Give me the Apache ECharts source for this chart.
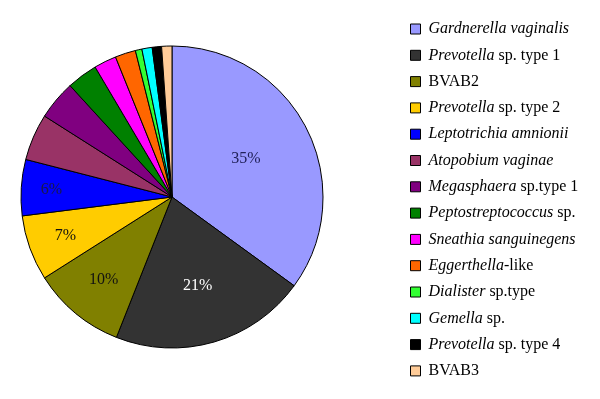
<!DOCTYPE html>
<html>
<head>
<meta charset="utf-8">
<script src="https://cdn.jsdelivr.net/npm/echarts@6/dist/echarts.min.js"></script>
<style>
html, body { margin: 0; padding: 0; background: #fff; }
#main { width: 600px; height: 399px; }
</style>
</head>
<body>
<div id="main"></div>
<script>
// 菌种名称（italic 部分单独列出）
var names = ['Gardnerella vaginalis', 'Prevotella sp. type 1', 'BVAB2', 'Prevotella sp. type 2',
    'Leptotrichia amnionii', 'Atopobium vaginae', 'Megasphaera sp.type 1', 'Peptostreptococcus sp.',
    'Sneathia sanguinegens', 'Eggerthella-like', 'Dialister sp.type', 'Gemella sp.',
    'Prevotella sp. type 4', 'BVAB3'];
var italicParts = ['Gardnerella vaginalis', 'Prevotella', '', 'Prevotella',
    'Leptotrichia amnionii', 'Atopobium vaginae', 'Megasphaera', 'Peptostreptococcus',
    'Sneathia sanguinegens', 'Eggerthella', 'Dialister', 'Gemella',
    'Prevotella', ''];
// 百分比
var values = [35, 21, 10, 7, 6, 5, 4.2, 3.3, 2.4, 2.2, 0.7, 1.1, 1.0, 1.1];
// 只显示前5个标签
var labelCount = 5;

var colors = ['#9999ff', '#333333', '#808000', '#ffcc00', '#0000ff', '#993366', '#800080',
    '#008000', '#ff00ff', '#ff6600', '#33ff33', '#00ffff', '#000000', '#ffcc99'];
var labelColors = ['#22225a', '#ffffff', '#111111', '#111111', '#1a1a44'];
var labelDist = [0.55, 0.61, 0.71, 0.75, 0.8]; // 标签离圆心的距离（半径比例）

var cx = 172, cy = 197, R = 151;
var serif = '"Liberation Serif", "DejaVu Serif", serif';

var chart = echarts.init(document.getElementById('main'));

var pieData = names.map(function (n, i) {
    return {
        name: n,
        value: values[i],
        itemStyle: { color: colors[i] },
        label: { show: i < labelCount, color: labelColors[i] || '#000' }
    };
});

function legendText(name) {
    var i = names.indexOf(name);
    var it = italicParts[i];
    if (!it) return '{sp|}{n|' + name + '}';
    var rest = name.slice(it.length);
    return '{sp|}{i|' + it + '}' + (rest ? '{n|' + rest + '}' : '');
}

var option = {
    animation: false,
    legend: {
        orient: 'vertical',
        left: 410,
        top: 21,
        padding: 0,
        itemWidth: 10,
        itemHeight: 10,
        itemGap: 10.3,
        icon: 'rect',
        itemStyle: { borderColor: '#000', borderWidth: 1 },
        data: names,
        formatter: legendText,
        textStyle: {
            color: '#000',
            fontFamily: serif,
            fontSize: 16,
            lineHeight: 16,
            rich: {
                sp: { width: 3 },
                i: { fontStyle: 'italic', fontFamily: serif, fontSize: 16, lineHeight: 16, color: '#000' },
                n: { fontFamily: serif, fontSize: 16, lineHeight: 16, color: '#000' }
            }
        }
    },
    series: [{
        type: 'pie',
        center: [cx, cy],
        radius: [0, R],
        startAngle: 90,
        clockwise: true,
        silent: true,
        itemStyle: { borderColor: '#000', borderWidth: 1 },
        label: {
            position: 'inside',
            fontFamily: serif,
            fontSize: 16,
            formatter: function (p) { return Math.round(p.percent) + '%'; }
        },
        labelLine: { show: false },
        labelLayout: function (p) {
            var r = p.labelRect;
            var lx = r.x + r.width / 2 - cx;
            var ly = r.y + r.height / 2 - cy;
            var len = Math.sqrt(lx * lx + ly * ly) || 1;
            var d = (labelDist[p.dataIndex] || 0.5) * R;
            return {
                x: cx + lx / len * d,
                y: cy + ly / len * d,
                align: 'center',
                verticalAlign: 'middle'
            };
        },
        data: pieData
    }]
};

chart.setOption(option);
window.addEventListener('resize', function () {
    chart.resize();
});
</script>
</body>
</html>
